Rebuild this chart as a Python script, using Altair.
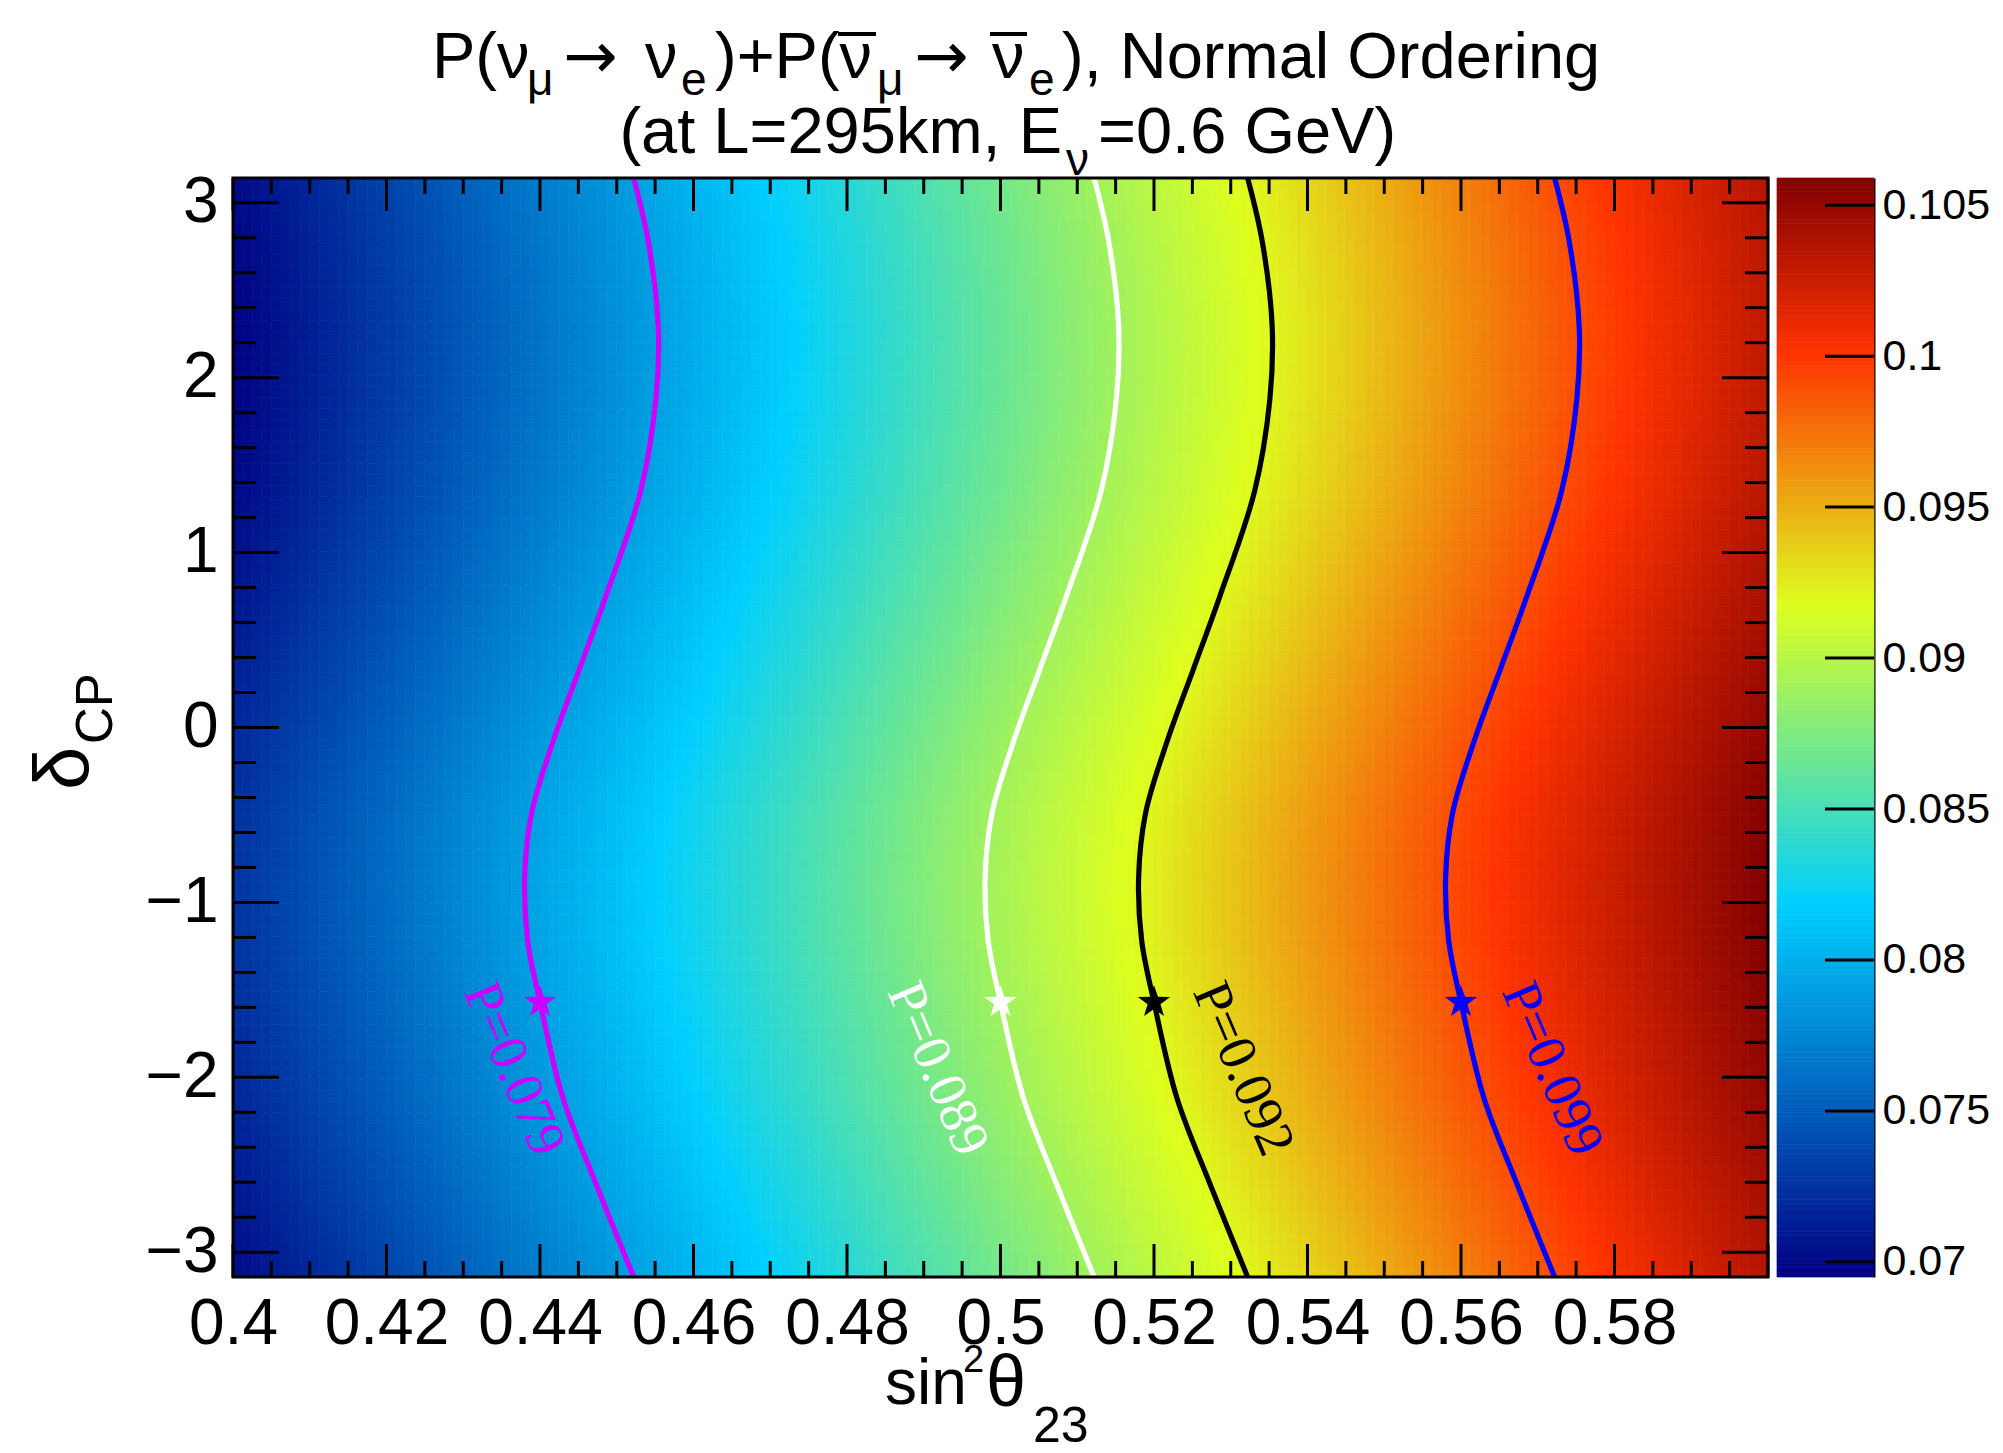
import numpy as np
import pandas as pd
import altair as alt

SANS = "Liberation Sans"
SERIF = "Liberation Serif"

# ---- values ---------------------------------------------------------------
# iso-probability curves: level, label, colour, sin^2(theta23) at delta_CP = -pi/2
contour_level = [0.079, 0.089, 0.092, 0.099]
contour_text = ["P=0.079", "P=0.089", "P=0.092", "P=0.099"]
contour_color = ["#cc00ff", "#ffffff", "#000000", "#0000ff"]
star_sin2 = [0.44, 0.50, 0.52, 0.56]
star_delta = [-1.5708, -1.5708, -1.5708, -1.5708]

# sideways displacement of the iso-probability curves vs delta_CP (relative to delta_CP = -pi/2)
shift_delta = [-3.1416, -2.61, -2.12, -1.5708, -1.22, -0.855, -0.49, -0.08,
               0.33, 0.74, 1.35, 1.88, 2.29, 2.78, 3.1416]
shift_sin2 = [0.0122, 0.0073, 0.0030, 0.0, -0.0016, -0.0020, -0.0011, 0.0017,
              0.0051, 0.0085, 0.0131, 0.0151, 0.0154, 0.0141, 0.0122]

# probability along delta_CP = -pi/2
profile_sin2 = [0.3845, 0.44, 0.50, 0.52, 0.56, 0.602]
profile_prob = [0.0695, 0.079, 0.089, 0.092, 0.099, 0.1059]

# anchor of each rotated curve label
label_sin2 = [0.4300, 0.4852, 0.5250, 0.5653]
label_delta = [-1.51, -1.51, -1.51, -1.51]

# z range and colour palette
z_min, z_max = 0.0695, 0.1059
palette_stops = [0.00, 0.34, 0.61, 0.84, 1.00]
palette_colors = ["#000082", "#00cfff", "#deff1f", "#ff3300", "#820000"]

x_labels = [0.40, 0.42, 0.44, 0.46, 0.48, 0.50, 0.52, 0.54, 0.56, 0.58]
y_labels = [-3, -2, -1, 0, 1, 2, 3]
z_labels = [0.07, 0.075, 0.08, 0.085, 0.09, 0.095, 0.1, 0.105]

# ---- layout ---------------------------------------------------------------
W, H = 1535, 1099
PAD_L, PAD_T = 233, 178
CB_GAP, CB_W = 9, 97

# ---- tables ---------------------------------------------------------------
nx, ny = 160, 100
xe = np.linspace(0.4, 0.6, nx + 1)
ye = np.linspace(-np.pi, np.pi, ny + 1)
xc = 0.5 * (xe[:-1] + xe[1:])
yc = 0.5 * (ye[:-1] + ye[1:])
row_shift = np.interp(yc, shift_delta, shift_sin2)
prob = np.interp(xc[None, :] - row_shift[:, None], profile_sin2, profile_prob)
X0, Y0 = np.meshgrid(xe[:-1], ye[:-1])
X1, Y1 = np.meshgrid(xe[1:], ye[1:])
grid = pd.DataFrame({
    "x0": X0.ravel(), "x1": X1.ravel(),
    "y0": Y0.ravel(), "y1": Y1.ravel(),
    "P": prob.ravel(),
})

labels = pd.DataFrame({"s": label_sin2, "delta": label_delta,
                       "text": contour_text, "color": contour_color})
stars = pd.DataFrame({"s": star_sin2, "delta": star_delta, "color": contour_color})

x_major = pd.DataFrame({"v": np.round(np.arange(0.4, 0.6001, 0.02), 3)})
x_minor = pd.DataFrame({"v": [v for v in np.round(np.arange(0.4, 0.6001, 0.005), 3)
                              if round(v / 0.02, 6) % 1 != 0]})
y_major = pd.DataFrame({"v": [-3, -2, -1, 0, 1, 2, 3]})
y_minor = pd.DataFrame({"v": [v for v in np.round(np.arange(-3.0, 3.0001, 0.2), 1)
                              if abs(v - round(v)) > 1e-6]})

zb = np.linspace(z_min, z_max, 241)
cbar = pd.DataFrame({"lo": zb[:-1], "hi": zb[1:], "P": 0.5 * (zb[:-1] + zb[1:])})
cbar_ticks = pd.DataFrame({"v": z_labels})

# ---- scales and axes --------------------------------------------------------
xs = alt.Scale(domain=[0.4, 0.6], nice=False, zero=False)
ys = alt.Scale(domain=[-np.pi, np.pi], nice=False, zero=False)
zs = alt.Scale(domain=[z_min, z_max], nice=False, zero=False)
cdomain = [z_min + f * (z_max - z_min) for f in palette_stops]
cs = alt.Scale(domain=cdomain, range=palette_colors, interpolate="rgb", clamp=True)

x_axis = alt.Axis(values=x_labels, format=".2~f", title=None, ticks=False, tickSize=0,
                  domain=False, grid=False, labelFont=SANS, labelFontSize=64,
                  labelColor="black", labelPadding=15, labelFlush=False, labelOverlap=False)
y_axis = alt.Axis(values=y_labels, format="d", title=None, ticks=False, tickSize=0,
                  domain=False, grid=False, labelFont=SANS, labelFontSize=64,
                  labelColor="black", labelPadding=15, labelFlush=False, labelOverlap=False)
z_axis = alt.Axis(orient="right", offset=CB_GAP + CB_W, values=z_labels, format="~g",
                  title=None, ticks=False, tickSize=0, domain=True, domainColor="black",
                  domainWidth=2, grid=False, labelFont=SANS, labelFontSize=43,
                  labelColor="black", labelPadding=8, labelFlush=False, labelOverlap=False)


def X(f):
    return alt.X(f, type="quantitative", scale=xs, axis=x_axis)


def Y(f):
    return alt.Y(f, type="quantitative", scale=ys, axis=y_axis)


# ---- main panel -----------------------------------------------------------
heat = alt.Chart(grid).mark_rect(strokeWidth=0.7).encode(
    x=X("x0"), x2="x1", y=Y("y0"), y2="y1",
    color=alt.Color("P:Q", scale=cs, legend=None),
    stroke=alt.Stroke("P:Q", scale=cs, legend=None),
)

# one layer per iso-probability curve
curve_layers = []
for s0, col in zip(star_sin2, contour_color):
    curve = pd.DataFrame({
        "i": list(range(len(shift_delta))),
        "delta": shift_delta,
        "s": [s0 + ds for ds in shift_sin2],
    })
    curve_layers.append(
        alt.Chart(curve).mark_line(color=col, strokeWidth=5.2,
                                   interpolate="catmull-rom").encode(
            x=X("s"), y=Y("delta"), order="i:Q"))

star_path = ("M0,-1L0.2351,-0.3236L0.9511,-0.309L0.3804,0.1236L0.5878,0.809L0,0.4"
             "L-0.5878,0.809L-0.3804,0.1236L-0.9511,-0.309L-0.2351,-0.3236Z")
star_marks = alt.Chart(stars).mark_point(shape=star_path, filled=True, size=1150,
                                         strokeWidth=0, opacity=1).encode(
    x=X("s"), y=Y("delta"), fill=alt.Fill("color:N", scale=None),
)

curve_labels = alt.Chart(labels).mark_text(font=SERIF, fontSize=54, angle=67,
                                           align="left", baseline="alphabetic").encode(
    x=X("s"), y=Y("delta"), text="text:N", color=alt.Color("color:N", scale=None),
)


def xticks(df, length):
    bottom = alt.Chart(df).mark_rule(color="black", strokeWidth=3).encode(
        x=X("v"), y=alt.value(H), y2=alt.value(H - length))
    top = alt.Chart(df).mark_rule(color="black", strokeWidth=3).encode(
        x=X("v"), y=alt.value(0), y2=alt.value(length))
    return [bottom, top]


def yticks(df, length):
    left = alt.Chart(df).mark_rule(color="black", strokeWidth=3).encode(
        y=Y("v"), x=alt.value(0), x2=alt.value(length))
    right = alt.Chart(df).mark_rule(color="black", strokeWidth=3).encode(
        y=Y("v"), x=alt.value(W - length), x2=alt.value(W))
    return [left, right]


frame = alt.Chart(alt.Data(values=[{}])).mark_rect(
    fill="transparent", stroke="black", strokeWidth=3).encode(
    x=alt.value(0), x2=alt.value(W), y=alt.value(0), y2=alt.value(H))


def piece(txt, ax, ay, size, angle=0, align="left", font=SANS):
    return alt.Chart(alt.Data(values=[{}])).mark_text(
        text=txt, fontSize=size, font=font, angle=angle, align=align,
        baseline="alphabetic", color="black").encode(
        x=alt.value(ax - PAD_L), y=alt.value(ay - PAD_T))


def bar(ax0, ax1, ay):
    # overbar of an antineutrino symbol
    return alt.Chart(alt.Data(values=[{}])).mark_rule(color="black", strokeWidth=4).encode(
        x=alt.value(ax0 - PAD_L), x2=alt.value(ax1 - PAD_L), y=alt.value(ay - PAD_T))


ARROW_FONT = "DejaVu Sans"
texts = [
    # title, first line
    piece("P(\u03bd", 432, 78, 65),
    piece("\u03bc", 527, 95, 46),
    piece("\u2192", 563, 78, 65, font=ARROW_FONT),
    piece("\u03bd", 645, 78, 65),
    piece("e", 681, 95, 46),
    piece(")+P(\u03bd", 715, 78, 65),
    bar(838, 876, 34),
    piece("\u03bc", 877, 95, 46),
    piece("\u2192", 914, 78, 65, font=ARROW_FONT),
    piece("\u03bd", 992, 78, 65),
    bar(990, 1027, 34),
    piece("e", 1029, 95, 46),
    piece("), Normal Ordering", 1062, 78, 65),
    # title, second line
    piece("(at L=295km, E", 1062, 153, 65, align="right"),
    piece("\u03bd", 1066, 175, 46),
    piece("=0.6 GeV)", 1098, 153, 65),
    # x axis title
    piece("sin", 885, 1404, 64),
    piece("2", 963, 1372, 38),
    piece("\u03b8", 986, 1406, 72),
    piece("23", 1033, 1442, 50),
    # y axis title
    piece("\u03b4", 89, 790, 78, angle=270),
    piece("CP", 112, 744, 51, angle=270),
]

main = alt.layer(
    heat, *curve_layers, star_marks, curve_labels,
    *xticks(x_major, 33), *xticks(x_minor, 16),
    *yticks(y_major, 46), *yticks(y_minor, 23),
    frame, *texts,
)

# ---- colour bar -----------------------------------------------------------
cb_rect = alt.Chart(cbar).mark_rect(strokeWidth=0.7).encode(
    x=alt.value(W + CB_GAP), x2=alt.value(W + CB_GAP + CB_W),
    y=alt.Y("lo:Q", scale=zs, axis=z_axis), y2="hi:Q",
    color=alt.Color("P:Q", scale=cs, legend=None),
    stroke=alt.Stroke("P:Q", scale=cs, legend=None),
)
cb_tick = alt.Chart(cbar_ticks).mark_rule(color="black", strokeWidth=3).encode(
    y=alt.Y("v:Q", scale=zs, axis=z_axis),
    x=alt.value(W + CB_GAP + CB_W - 49), x2=alt.value(W + CB_GAP + CB_W),
)
colorbar = alt.layer(cb_rect, cb_tick)

chart = alt.layer(main, colorbar).resolve_scale(y="independent").properties(
    width=W, height=H,
    autosize=alt.AutoSizeParams(type="none"),
    padding={"left": PAD_L, "top": PAD_T, "right": 2003 - PAD_L - W,
             "bottom": 1453 - PAD_T - H},
    background="white",
).configure_view(strokeWidth=0)

chart.save("out.html", embed_options={"renderer": "svg", "actions": False})
